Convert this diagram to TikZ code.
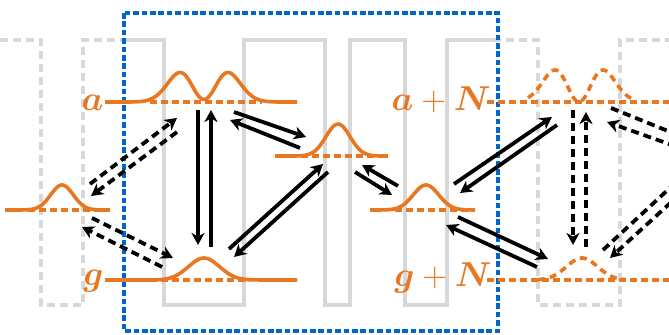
\documentclass[tikz,border=0pt]{standalone}
\usepackage{amsmath}
\usepackage{bm}
\usetikzlibrary{arrows.meta}
\definecolor{wforange}{RGB}{232, 119, 34}
\definecolor{boxblue}{RGB}{0, 102, 204}
\definecolor{potgray}{RGB}{216, 216, 216}

\begin{document}
\begin{tikzpicture}[x=0.5pt, y=-0.5pt,
      pot/.style={draw=potgray, line width=1.8pt},
      potd/.style={pot, dash pattern=on 4pt off 2.5pt},
      boxd/.style={draw=boxblue, line width=1.8pt,
                   dash pattern=on 2.8pt off 1.4pt},
      lvl/.style={draw=wforange, line width=1.8pt,
                  dash pattern=on 3.5pt off 2pt},
      wave/.style={draw=wforange, line width=1.8pt, line join=round},
      waved/.style={wave, dash pattern=on 3.5pt off 2.5pt},
      hop/.style={line width=1.9pt,
                  -{Stealth[length=6pt, width=6.5pt, inset=1.8pt]}},
      hopd/.style={hop, dash pattern=on 4pt off 2.5pt},
      lbl/.style={text=wforange, font=\LARGE, anchor=base east,
                  inner sep=0pt},
    ]
    \useasboundingbox (0,0) rectangle (669,335);
    \clip (0,0) rectangle (669,335);
    \def\potpath{(0,40) -- (41,40) -- (41,305) -- (83,305) -- (83,40)
      -- (164,40) -- (164,305) -- (244,305) -- (244,40) -- (325,40)
      -- (325,305) -- (350,305) -- (350,40) -- (405,40) -- (405,305)
      -- (447,305) -- (447,40) -- (538,40) -- (538,305) -- (620,305)
      -- (620,40) -- (669,40)}

    %% potential, solid inside the box
    \draw[potd] \potpath;
    \begin{scope}
      \clip (124,0) rectangle (498,335);
      \draw[pot] \potpath;
    \end{scope}
    \draw[boxd] (124,13) rectangle (498,331);

    %% levels and wave functions
    \draw[lvl] (150,102) -- (262,102);
    \draw[wave] plot[domain=105:297, samples=120]
      (\x, {102 - 2.5 - 29.5*2.718*((\x-204)/24)^2*exp(-((\x-204)/24)^2)
            + 2.5*(1-exp(-((\x-204)/24)^2*4))});
    \draw[lvl] (150,280) -- (250,280);
    \draw[wave] plot[domain=105:297, samples=100]
      (\x, {280 - 22*exp(-((\x-204)/22)^2)});
    \draw[lvl] (28,210) -- (110,210);
    \draw[wave] plot[domain=5:110, samples=70]
      (\x, {210 - 25*exp(-((\x-62)/16)^2)});
    \draw[lvl] (290,156) -- (388,156);
    \draw[wave] plot[domain=275:388, samples=70]
      (\x, {156 - 32*exp(-((\x-338)/17)^2)});
    \draw[lvl] (395,210) -- (475,210);
    \draw[wave] plot[domain=370:475, samples=70]
      (\x, {210 - 25*exp(-((\x-426)/18)^2)});
    \draw[lvl] (487,102) -- (669,102);
    \draw[waved] plot[domain=528:634, samples=80]
      (\x, {102 - 32*2.718*((\x-579)/24)^2*exp(-((\x-579)/24)^2)});
    \draw[lvl] (487,280) -- (669,280);
    \draw[waved] plot[domain=538:626, samples=60]
      (\x, {280 - 22*exp(-((\x-582)/22)^2)});

    %% labels
    \node[lbl] (la) at (104,111) {$\boldsymbol{a}$};
    \node[lbl] (lg) at (104,286) {$\boldsymbol{g}$};
    \node[lbl] (laN) at (491,111) {$\boldsymbol{a}+\boldsymbol{N}$};
    \node[lbl] (lgN) at (492,287) {$\boldsymbol{g}+\boldsymbol{N}$};

    %% hop end points
    \coordinate (s1-a) at (198,110); \coordinate (s1-b) at (198,245);
    \coordinate (s2-a) at (211,247); \coordinate (s2-b) at (211,110);
    \coordinate (s3-a) at (234,112); \coordinate (s3-b) at (306,137);
    \coordinate (s4-a) at (300,148); \coordinate (s4-b) at (230,120);
    \coordinate (s5-a) at (229,249); \coordinate (s5-b) at (323,164);
    \coordinate (s6-a) at (328,172); \coordinate (s6-b) at (234,257);
    \coordinate (s7-a) at (355,172); \coordinate (s7-b) at (392,195);
    \coordinate (s8-a) at (398,186); \coordinate (s8-b) at (362,165);
    \coordinate (s9-a) at (454,184); \coordinate (s9-b) at (552,117);
    \coordinate (s10-a) at (557,125); \coordinate (s10-b) at (460,193);
    \coordinate (s11-a) at (458,217); \coordinate (s11-b) at (548,259);
    \coordinate (s12-a) at (537,267); \coordinate (s12-b) at (446,225);

    \coordinate (d1-a) at (90,184);  \coordinate (d1-b) at (177,118);
    \coordinate (d2-a) at (177,132); \coordinate (d2-b) at (91,196);
    \coordinate (d3-a) at (92,218);  \coordinate (d3-b) at (173,258);
    \coordinate (d4-a) at (162,267); \coordinate (d4-b) at (82,227);
    \coordinate (d5-a) at (573,110); \coordinate (d5-b) at (573,245);
    \coordinate (d6-a) at (586,247); \coordinate (d6-b) at (586,112);
    \coordinate (d7-a) at (611,108); \coordinate (d7-b) at (700,144);
    \coordinate (d8-a) at (700,155); \coordinate (d8-b) at (607,122);
    \coordinate (d9-a) at (603,250); \coordinate (d9-b) at (700,160);
    \coordinate (d10-a) at (700,176); \coordinate (d10-b) at (610,258);

    \foreach \i in {1,...,12}
      \draw[hop] (s\i-a) -- (s\i-b);
    \foreach \i in {1,...,10}
      \draw[hopd] (d\i-a) -- (d\i-b);
    \end{tikzpicture}
\end{document}
